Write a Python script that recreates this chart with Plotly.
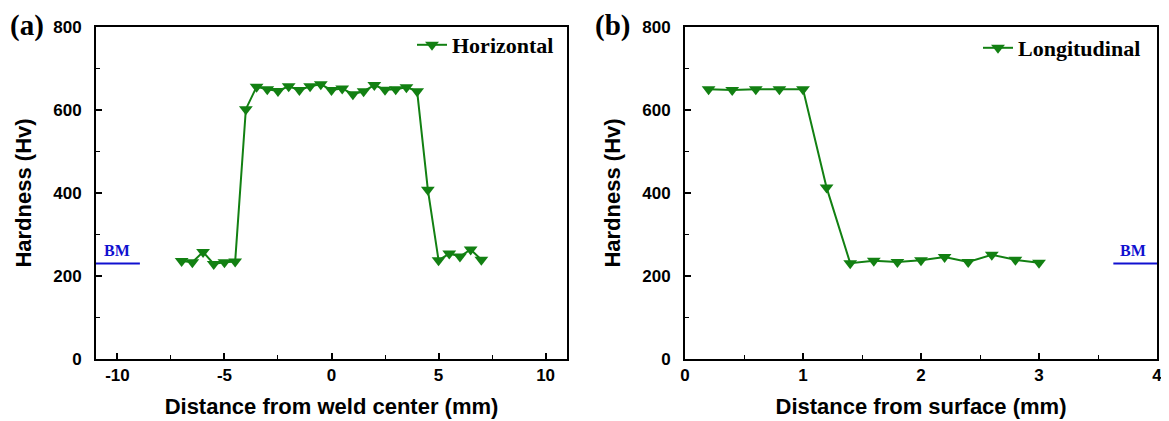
import plotly.graph_objects as go

# Panel (a): horizontal profile
h_x = [-7, -6.5, -6, -5.5, -5, -4.5, -4, -3.5, -3, -2.5, -2, -1.5, -1, -0.5, 0,
       0.5, 1, 1.5, 2, 2.5, 3, 3.5, 4, 4.5, 5, 5.5, 6, 6.5, 7]
h_y = [236, 233, 258, 229, 233, 235, 602, 656, 650, 646, 657, 648, 657, 662, 648,
       652, 638, 645, 660, 649, 650, 655, 645, 408, 238, 254, 247, 264, 239]

# Panel (b): longitudinal profile
l_x = [0.2, 0.4, 0.6, 0.8, 1.0, 1.2, 1.4, 1.6, 1.8, 2.0, 2.2, 2.4, 2.6, 2.8, 3.0]
l_y = [650, 648, 650, 650, 650, 413, 231, 237, 234, 238, 246, 234, 251, 239, 232]

# Base metal reference
bm_a_x = [-11, -8.95]
bm_b_x = [3.63, 4.0]
bm_val = 230

GREEN = "#128012"
BLUE = "#1010d0"
SANS = "Liberation Sans, Arial, sans-serif"
SERIF = "Liberation Serif, Times New Roman, serif"

W, H = 1169, 421
OFF = 8  # page body margin offset

def px(x):
    return (x - OFF) / W

def py(y):
    return 1 - (y - OFF) / H

fig = go.Figure()
fig.add_trace(go.Scatter(x=h_x, y=h_y, mode="lines+markers", name="<b>Horizontal</b>",
                         line=dict(color=GREEN, width=2),
                         marker=dict(symbol="triangle-down", size=12, color=GREEN),
                         xaxis="x", yaxis="y", legend="legend"))
fig.add_trace(go.Scatter(x=l_x, y=l_y, mode="lines+markers", name="<b>Longitudinal</b>",
                         line=dict(color=GREEN, width=2),
                         marker=dict(symbol="triangle-down", size=12, color=GREEN),
                         xaxis="x2", yaxis="y2", legend="legend2"))
fig.add_trace(go.Scatter(x=bm_a_x, y=[bm_val, bm_val], mode="lines", showlegend=False,
                         line=dict(color=BLUE, width=2), xaxis="x", yaxis="y",
                         cliponaxis=False))
fig.add_trace(go.Scatter(x=bm_b_x, y=[bm_val, bm_val], mode="lines", showlegend=False,
                         line=dict(color=BLUE, width=2), xaxis="x2", yaxis="y2",
                         cliponaxis=False))

axis_common = dict(showline=True, linecolor="black", linewidth=1.8, mirror=True,
                   ticks="inside", ticklen=6, tickwidth=1.5, tickcolor="black",
                   showgrid=False, zeroline=False, automargin=False,
                   tickfont=dict(family=SANS, size=17, color="black", weight=700))
title_font = dict(family=SANS, size=22, color="black", weight=700)
minor_common = dict(ticks="inside", ticklen=4, tickwidth=1.2, tickcolor="black")

fig.update_layout(
    width=W, height=H,
    margin=dict(l=0, r=0, t=0, b=0),
    plot_bgcolor="white", paper_bgcolor="white",
    showlegend=True,
    xaxis=dict(domain=[px(96), px(567)], range=[-11, 11], anchor="y",
               tickvals=[-10, -5, 0, 5, 10], ticktext=["-10", "-5", "0", "5", "10"],
               minor=dict(dtick=2.5, tick0=0, **minor_common),
               title=dict(text="Distance from weld center (mm)", font=title_font, standoff=14),
               **axis_common),
    yaxis=dict(domain=[py(359), py(27)], range=[0, 800], anchor="x",
               tickvals=[0, 200, 400, 600, 800], ticklabelstandoff=9,
               minor=dict(dtick=100, tick0=0, **minor_common),
               title=dict(text="Hardness (Hv)", font=title_font, standoff=16),
               **axis_common),
    xaxis2=dict(domain=[px(685), px(1157)], range=[0, 4], anchor="y2",
                tickvals=[0, 1, 2, 3, 4],
                minor=dict(dtick=0.5, tick0=0, **minor_common),
                title=dict(text="Distance from surface (mm)", font=title_font, standoff=14),
                **axis_common),
    yaxis2=dict(domain=[py(359), py(27)], range=[0, 800], anchor="x2",
                tickvals=[0, 200, 400, 600, 800], ticklabelstandoff=9,
                minor=dict(dtick=100, tick0=0, **minor_common),
                title=dict(text="Hardness (Hv)", font=title_font, standoff=16),
                **axis_common),
    legend=dict(x=px(559), y=py(24), xanchor="right", yanchor="top", bgcolor="rgba(0,0,0,0)",
                font=dict(family=SERIF, size=22, color="black"), itemwidth=30,
                tracegroupgap=0),
    legend2=dict(x=px(1146), y=py(27), xanchor="right", yanchor="top", bgcolor="rgba(0,0,0,0)",
                 font=dict(family=SERIF, size=22, color="black"), itemwidth=30),
    annotations=[
        dict(text="<b>(a)</b>", x=0.0, y=py(25), xref="paper", yref="paper", xanchor="left",
             yanchor="middle", showarrow=False, font=dict(family=SERIF, size=29, color="black")),
        dict(text="<b>(b)</b>", x=px(593), y=py(25), xref="paper", yref="paper", xanchor="left",
             yanchor="middle", showarrow=False, font=dict(family=SERIF, size=29, color="black")),
        dict(text="<b>BM</b>", x=-10.0, y=bm_val, xref="x", yref="y", yanchor="bottom",
             yshift=3, showarrow=False, font=dict(family=SERIF, size=16, color=BLUE)),
        dict(text="<b>BM</b>", x=3.80, y=bm_val, xref="x2", yref="y2", yanchor="bottom",
             yshift=3, showarrow=False, font=dict(family=SERIF, size=16, color=BLUE)),
    ],
)

fig.write_html("out.html")
